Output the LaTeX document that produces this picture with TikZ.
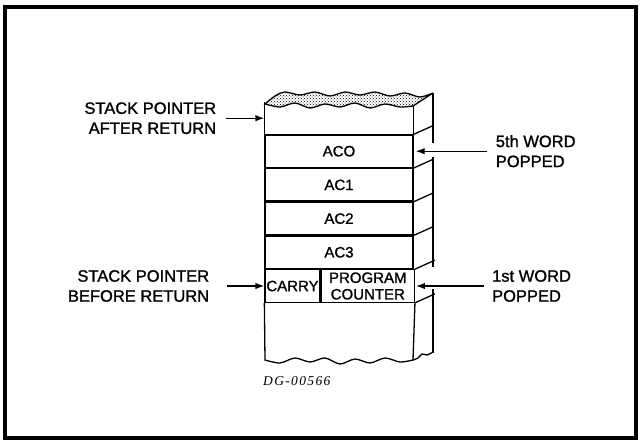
\documentclass[tikz,border=0pt]{standalone}
\usepackage{fontspec}
\setmainfont[FakeBold=1.2]{Liberation Sans}
\newfontfamily\figfont[LetterSpace=10]{Liberation Serif}
\usetikzlibrary{arrows.meta,positioning,patterns}
\tikzset{
  wordbox/.style={draw,line width=1.3pt,minimum width=148pt,minimum height=32.4pt,inner sep=0pt,font=\fontsize{15}{16.5}\selectfont},
  lbl/.style={inner sep=0pt,font=\fontsize{16.5}{20}\selectfont},
  ptr/.style={-{Latex[length=9pt,width=6.5pt]},line width=1.3pt},
  backedge/.style={line width=2.6pt},
}
\begin{document}
\begin{tikzpicture}[x=1pt,y=-1pt]
\useasboundingbox (0,0) rectangle (640,442);
\draw[line width=3.5pt] (5,7) rectangle (636,438);

% stack words
\node[wordbox] (ac0) at (339,151.2) {ACO};
\node[wordbox,below=0pt of ac0] (ac1) {AC1};
\node[wordbox,below=0pt of ac1] (ac2) {AC2};
\node[wordbox,below=0pt of ac2] (ac3) {AC3};
\node[wordbox,minimum width=55pt,below right=0pt of ac3.south west] (carry) {CARRY};
\node[wordbox,minimum width=93pt,align=center,right=0pt of carry] (pc) {PROGRAM\\COUNTER};
\node[wordbox,draw=none,minimum height=31pt,above=0pt of ac0] (top) {};
\draw[line width=1.3pt] (top.north west) -- (top.south west);
\draw[line width=1.3pt] ([yshift=-3pt]top.north east) -- (top.south east);

% ragged top and bottom
\draw[line width=1.3pt,pattern=crosshatch dots] plot[smooth] coordinates {(265,104) (280,107) (295,103) (310,108) (325,104) (340,107) (355,103) (370,108) (385,104) (400,107) (413,106)}
  -- plot[smooth] coordinates {(433,93) (420,97) (405,93) (390,96) (375,92) (360,95) (345,92) (330,96) (315,92) (300,95) (285,92) (275,96) (265,104)} -- cycle;
\draw[line width=1.3pt] (carry.south west) -- (265,360)
  -- plot[smooth] coordinates {(265,360) (280,363) (295,358) (310,362) (325,358) (340,364) (355,359) (370,363) (385,358) (400,362) (413,360)}
  -- (pc.south east);
\draw[line width=1.3pt] plot[smooth] coordinates {(413,360) (418,358) (422,354) (427,355) (433,352)};

% side face
\foreach \r in {ac0,ac1,ac2,ac3,pc}
  \draw[line width=1.3pt] (\r.north east) -- ++(20,-9);
\draw[line width=1.3pt] (pc.south east) -- ++(20,-9);
\draw[backedge] (433,93) -- (433,143);
\draw[backedge] (433,157) -- (433,267);
\draw[backedge] (433,289) -- (433,353);

% pointers
\node[lbl,align=right,left=48pt of top.west] (after) {STACK POINTER\\AFTER RETURN};
\node[lbl,align=right,left=55pt of carry.west] (before) {STACK POINTER\\BEFORE RETURN};
\node[lbl,align=left,right=82pt of ac0.east] (fifth) {5th WORD\\POPPED};
\node[lbl,align=left,right=77pt of pc.east] (first) {1st WORD\\POPPED};
\draw[ptr] ([xshift=10pt]after.east) -- (top.west);
\draw[ptr] ([xshift=18pt]before.east) -- (carry.west);
\draw[ptr] ([xshift=-9pt]fifth.west) -- ([xshift=2pt]ac0.east);
\draw[ptr] ([xshift=-8pt]first.west) -- ([xshift=1pt]pc.east);

\node[anchor=west,inner sep=0pt,font=\figfont\itshape\fontsize{13.5}{15}\selectfont] (fig) at (263,381) {DG-00566};
\end{tikzpicture}
\end{document}
